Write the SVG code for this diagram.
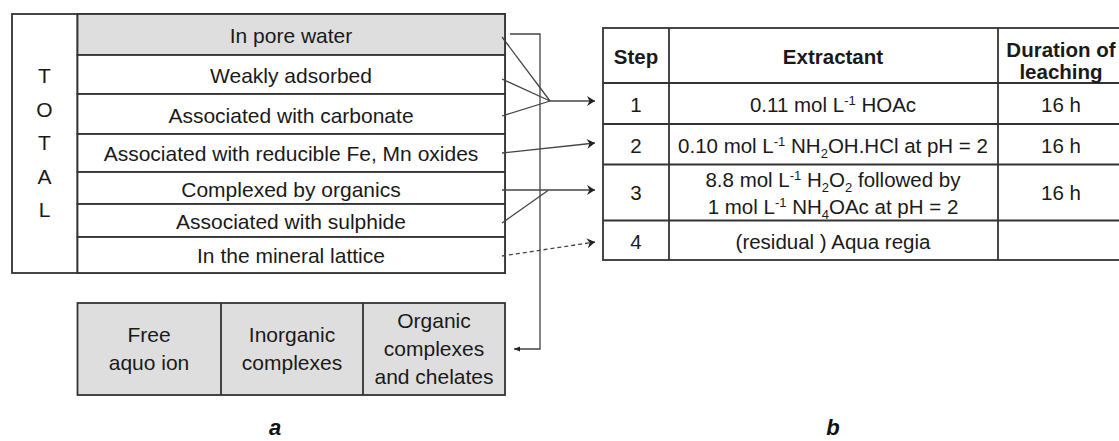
<svg xmlns="http://www.w3.org/2000/svg" width="1119" height="441" viewBox="0 0 1119 441">
<defs>
<style>
.t{font-family:"Liberation Sans",Arial,sans-serif;font-size:21px;fill:#1a1a1a;text-anchor:middle}
.tb{font-family:"Liberation Sans",Arial,sans-serif;font-size:20.5px;fill:#1a1a1a;text-anchor:middle}
.h{font-weight:bold}
.box{fill:#fff;stroke:#333;stroke-width:1.8}
.grey{fill:#dedede;stroke:#333;stroke-width:1.8}
.ln{fill:none;stroke:#333;stroke-width:1.8}
.c{fill:none;stroke:#444;stroke-width:1.3}
.d{stroke-dasharray:4 3}
.lab{font-family:"Liberation Sans",Arial,sans-serif;font-size:22px;font-weight:bold;font-style:italic;fill:#111;text-anchor:middle}
</style>
<marker id="arr" markerUnits="userSpaceOnUse" markerWidth="12" markerHeight="12" refX="9" refY="6" orient="auto">
<path d="M1,1 L9,6 L1,11 L3.5,6 z" fill="#222"/>
</marker>
<marker id="arrs" markerUnits="userSpaceOnUse" markerWidth="8" markerHeight="8" refX="6" refY="4" orient="auto">
<path d="M0,1.5 L6,4 L0,6.5 z" fill="#222"/>
</marker>
</defs>

<g id="fractions">
<rect class="box" x="12" y="14" width="493" height="259"/>
<line class="ln" x1="77.5" y1="14" x2="77.5" y2="273"/>
<g id="total">
<text class="t" x="44.5" y="83">T</text>
<text class="t" x="44.5" y="116.5">O</text>
<text class="t" x="44.5" y="150">T</text>
<text class="t" x="44.5" y="183.5">A</text>
<text class="t" x="44.5" y="217">L</text>
</g>
<g id="row-pore-water"><rect class="grey" x="77.5" y="14" width="427.5" height="41"/><text class="t" x="291" y="43">In pore water</text></g>
<g id="row-weakly"><rect class="box" x="77.5" y="55" width="427.5" height="39"/><text class="t" x="291" y="83">Weakly adsorbed</text></g>
<g id="row-carbonate"><rect class="box" x="77.5" y="94" width="427.5" height="40"/><text class="t" x="291" y="123">Associated with carbonate</text></g>
<g id="row-oxides"><rect class="box" x="77.5" y="134" width="427.5" height="38"/><text class="t" x="291" y="161">Associated with reducible Fe, Mn oxides</text></g>
<g id="row-organics"><rect class="box" x="77.5" y="172" width="427.5" height="32"/><text class="t" x="291" y="196.5">Complexed by organics</text></g>
<g id="row-sulphide"><rect class="box" x="77.5" y="204" width="427.5" height="33"/><text class="t" x="291" y="229">Associated with sulphide</text></g>
<g id="row-lattice"><rect class="box" x="77.5" y="237" width="427.5" height="36"/><text class="t" x="291" y="263">In the mineral lattice</text></g>
</g>

<g id="species">
<rect class="grey" x="77.5" y="303" width="427.5" height="92"/>
<line class="ln" x1="221" y1="303" x2="221" y2="395"/>
<line class="ln" x1="363" y1="303" x2="363" y2="395"/>
<g id="free-ion"><text class="t" x="149" y="342">Free</text><text class="t" x="149" y="370">aquo ion</text></g>
<g id="inorganic"><text class="t" x="292" y="342">Inorganic</text><text class="t" x="292" y="370">complexes</text></g>
<g id="organic"><text class="t" x="434" y="328">Organic</text><text class="t" x="434" y="356">complexes</text><text class="t" x="434" y="384">and chelates</text></g>
</g>

<g id="steps">
<rect class="box" x="603" y="28" width="522" height="232"/>
<line class="ln" x1="669" y1="28" x2="669" y2="260"/>
<line class="ln" x1="998" y1="28" x2="998" y2="260"/>
<line class="ln" x1="603" y1="83" x2="1125" y2="83"/>
<line class="ln" x1="603" y1="124" x2="1125" y2="124"/>
<line class="ln" x1="603" y1="164.5" x2="1125" y2="164.5"/>
<line class="ln" x1="603" y1="220.5" x2="1125" y2="220.5"/>
<g id="header">
<text class="tb h" x="636" y="63.5">Step</text>
<text class="tb h" x="833" y="63.5">Extractant</text>
<text class="tb h" x="1061" y="57" font-size="20">Duration of</text>
<text class="tb h" x="1061" y="79" font-size="20">leaching</text>
</g>
<g id="step1">
<text class="tb" x="636" y="111.5">1</text>
<text class="tb" x="833" y="111.5">0.11 mol L<tspan font-size="13" dy="-7">-1</tspan><tspan dy="7"> HOAc</tspan></text>
<text class="tb" x="1061" y="111.5">16 h</text>
</g>
<g id="step2">
<text class="tb" x="636" y="152.5">2</text>
<text class="tb" x="833" y="152.5">0.10 mol L<tspan font-size="13" dy="-7">-1</tspan><tspan dy="7"> NH</tspan><tspan font-size="13" dy="5">2</tspan><tspan dy="-5">OH.HCl at pH = 2</tspan></text>
<text class="tb" x="1061" y="152.5">16 h</text>
</g>
<g id="step3">
<text class="tb" x="636" y="200">3</text>
<text class="tb" x="833" y="187">8.8 mol L<tspan font-size="13" dy="-7">-1</tspan><tspan dy="7"> H</tspan><tspan font-size="13" dy="5">2</tspan><tspan dy="-5">O</tspan><tspan font-size="13" dy="5">2</tspan><tspan dy="-5"> followed by</tspan></text>
<text class="tb" x="833" y="214">1 mol L<tspan font-size="13" dy="-7">-1</tspan><tspan dy="7"> NH</tspan><tspan font-size="13" dy="5">4</tspan><tspan dy="-5">OAc at pH = 2</tspan></text>
<text class="tb" x="1061" y="200">16 h</text>
</g>
<g id="step4">
<text class="tb" x="636" y="249">4</text>
<text class="tb" x="833" y="249">(residual ) Aqua regia</text>
</g>
</g>

<g id="connectors">
<polyline class="c" points="510,34 540,34 540,349 514,349" marker-end="url(#arrs)"/>
<line class="c" x1="502" y1="37" x2="550" y2="101"/>
<line class="c" x1="502" y1="79" x2="550" y2="101"/>
<line class="c" x1="502" y1="116" x2="550" y2="101"/>
<line class="c" x1="550" y1="101" x2="595" y2="101" marker-end="url(#arr)"/>
<line class="c" x1="502" y1="153" x2="595" y2="143" marker-end="url(#arr)"/>
<line class="c" x1="502" y1="190" x2="595" y2="190" marker-end="url(#arr)"/>
<line class="c" x1="502" y1="223" x2="548" y2="190.5"/>
<line class="c d" x1="502" y1="256" x2="595" y2="242" marker-end="url(#arr)"/>
</g>

<g id="labels">
<text class="lab" x="275" y="435">a</text>
<text class="lab" x="833" y="435">b</text>
</g>
</svg>
